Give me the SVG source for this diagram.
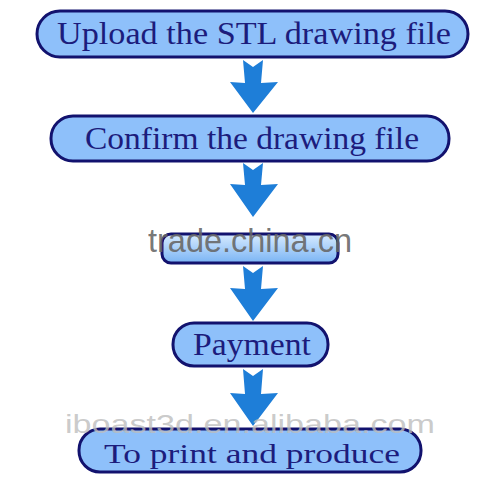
<svg xmlns="http://www.w3.org/2000/svg" width="500" height="500" viewBox="0 0 500 500">
<defs>
<style>
.box{fill:#8ec0fa;stroke:#12126e;stroke-width:3}
.lbl{font-family:"Liberation Serif","DejaVu Serif",serif;fill:#1c1c7c;text-anchor:middle}
.arr{fill:#1e7ed8}
.wm{font-family:"Liberation Sans",Arial,sans-serif;text-anchor:middle}
</style>
<linearGradient id="g3" x1="0" y1="0" x2="0" y2="1">
<stop offset="0" stop-color="#d8ebff"/>
<stop offset="1" stop-color="#7ab4f4"/>
</linearGradient>
</defs>
<rect width="500" height="500" fill="#ffffff"/>
<g id="connectors">
<polygon class="arr" points="243,60 253,67 263,60 261,83 278,82 253,113 230,82 245,83"/>
<polygon class="arr" points="243,163 253,170 263,163 261,185 278,184 253,217 230,184 245,185"/>
<polygon class="arr" points="243,266 253,273 263,266 261,289 278,288 253,321 230,288 245,289"/>
<polygon class="arr" points="243,369 253,376 263,369 261,394 278,393 253,426 230,393 245,394"/>
</g>
<g id="node1">
<rect class="box" x="37" y="11" width="431" height="46" rx="23"/>
<text class="lbl" x="254" y="44" font-size="31" textLength="394" lengthAdjust="spacingAndGlyphs">Upload the STL drawing file</text>
</g>
<g id="node2">
<rect class="box" x="51" y="116" width="398" height="45" rx="22"/>
<text class="lbl" x="252" y="149" font-size="31" textLength="334" lengthAdjust="spacingAndGlyphs">Confirm the drawing file</text>
</g>
<g id="node3">
<rect x="162" y="234" width="176" height="29" rx="9" fill="url(#g3)" stroke="#12126e" stroke-width="3"/>
</g>
<g id="node4">
<rect class="box" x="173" y="323" width="155" height="43" rx="21"/>
<text class="lbl" x="252" y="355" font-size="31" textLength="118" lengthAdjust="spacingAndGlyphs">Payment</text>
</g>
<g id="node5">
<rect class="box" x="79" y="429" width="342" height="43" rx="21"/>
<text class="lbl" x="252" y="463" font-size="28" textLength="296" lengthAdjust="spacingAndGlyphs">To print and produce</text>
</g>
<g id="watermarks">
<text class="wm" x="250" y="433" font-size="26" fill="#bdbdbd" fill-opacity="0.8" textLength="370" lengthAdjust="spacingAndGlyphs">iboast3d.en.alibaba.com</text>
<text class="wm" x="250" y="252" font-size="33" fill="#666666" fill-opacity="0.9" textLength="204" lengthAdjust="spacingAndGlyphs">trade.china.cn</text>
</g>
</svg>
